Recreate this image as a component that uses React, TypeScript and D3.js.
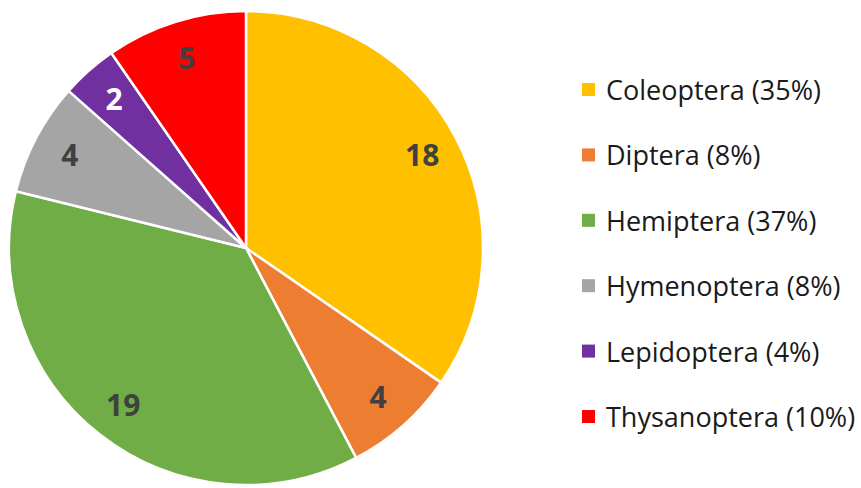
import React, { useEffect, useRef } from 'react';
import * as d3 from 'd3';

const orders = ['Coleoptera', 'Diptera', 'Hemiptera', 'Hymenoptera', 'Lepidoptera', 'Thysanoptera'];
const counts = [18, 4, 19, 4, 2, 5];
const percents = [35, 8, 37, 8, 4, 10];
const colors = ['#FFC000', '#ED7D31', '#70AD47', '#A5A5A5', '#7030A0', '#FF0000'];
const labelColors = ['#404040', '#404040', '#404040', '#404040', '#FFFFFF', '#404040'];

const width = 861;
const height = 488;

export default function App() {
  const ref = useRef<SVGSVGElement>(null);

  useEffect(() => {
    const svg = d3.select(ref.current);
    svg.selectAll('*').remove();

    const cx = 246;
    const cy = 248;
    const radius = 237;

    const g = svg.append('g').attr('transform', `translate(${cx},${cy})`);

    const pie = d3.pie<number>().sort(null).value(d => d);
    const arcs = pie(counts);

    const arc = d3.arc<d3.PieArcDatum<number>>().innerRadius(0).outerRadius(radius);
    const labelArc = d3.arc<d3.PieArcDatum<number>>().innerRadius(radius * 0.84).outerRadius(radius * 0.84);

    g.selectAll('path')
      .data(arcs)
      .enter()
      .append('path')
      .attr('d', arc)
      .attr('fill', (d, i) => colors[i])
      .attr('stroke', '#fff')
      .attr('stroke-width', 2.5)
      .attr('stroke-linejoin', 'round');

    g.selectAll('text.val')
      .data(arcs)
      .enter()
      .append('text')
      .attr('class', 'val')
      .attr('transform', d => `translate(${labelArc.centroid(d)})`)
      .attr('text-anchor', 'middle')
      .attr('dy', '0.36em')
      .attr('font-family', '"Open Sans", sans-serif')
      .attr('font-weight', 700)
      .attr('font-size', 30)
      .attr('fill', (d, i) => labelColors[i])
      .text(d => d.data);

    const legend = svg.append('g').attr('transform', 'translate(582,0)');
    const rowY = d3.scaleLinear().domain([0, orders.length - 1]).range([100, 427]);

    const rows = legend.selectAll('g')
      .data(orders)
      .enter()
      .append('g')
      .attr('transform', (d, i) => `translate(0,${rowY(i)})`);

    rows.append('rect')
      .attr('x', 0)
      .attr('y', -17)
      .attr('width', 13)
      .attr('height', 13)
      .attr('fill', (d, i) => colors[i]);

    rows.append('text')
      .attr('x', 24)
      .attr('y', 0)
      .attr('font-family', '"Open Sans", sans-serif')
      .attr('font-size', 27)
      .attr('fill', '#1a1a1a')
      .text((d, i) => `${d} (${percents[i]}%)`);
  }, []);

  return (
    <svg
      ref={ref}
      width={width}
      height={height}
      style={{ position: 'absolute', left: 0, top: 0, background: '#fff' }}
    />
  );
}
